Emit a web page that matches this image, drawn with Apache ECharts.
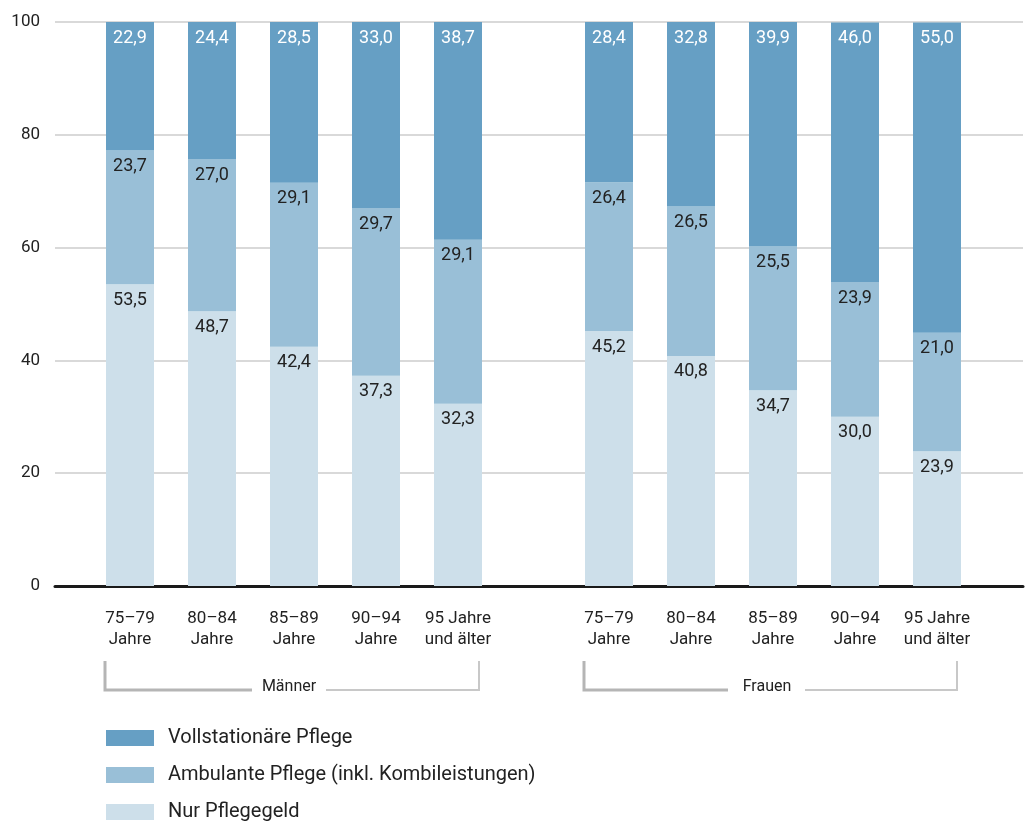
<!DOCTYPE html>
<html><head><meta charset="utf-8">
<script src="https://cdn.jsdelivr.net/npm/echarts@6/dist/echarts.min.js"></script>
<style>html,body{margin:0;padding:0;background:#fff}#c{width:1031px;height:826px}</style>
</head><body><div id="c"></div>
<script>
const categories = ['75–79\nJahre','80–84\nJahre','85–89\nJahre','90–94\nJahre','95 Jahre\nund älter'];
const groups = ['Männer','Frauen'];
const seriesNames = ['Vollstationäre Pflege','Ambulante Pflege (inkl. Kombileistungen)','Nur Pflegegeld'];
const maennerNur  = [53.5, 48.7, 42.4, 37.3, 32.3];
const maennerAmb  = [23.7, 27.0, 29.1, 29.7, 29.1];
const maennerVoll = [22.9, 24.4, 28.5, 33.0, 38.7];
const frauenNur   = [45.2, 40.8, 34.7, 30.0, 23.9];
const frauenAmb   = [26.4, 26.5, 25.5, 23.9, 21.0];
const frauenVoll  = [28.4, 32.8, 39.9, 46.0, 55.0];
const yTicks = [0, 20, 40, 60, 80, 100];

const colors = {voll:'#669fc4', amb:'#99bfd7', nur:'#cddfea'};
const font = 'Roboto';
const fmt = p => p.value.toFixed(1).replace('.', ',');

function mk(name, data, color, gi, labelColor) {
  return {
    name, type:'bar', stack:'s'+gi, xAxisIndex:gi, yAxisIndex:gi, data,
    barWidth:48, itemStyle:{color}, emphasis:{disabled:true},
    label:{show:true, position:'insideTop', distance:7, color:labelColor, fontSize:18, fontFamily:font, formatter:fmt}
  };
}
function lg(name, top) {
  return {
    orient:'vertical', left:106, top, padding:0, itemWidth:48, itemHeight:16, icon:'rect',
    data:[name], selectedMode:false,
    textStyle:{fontSize:20, color:'#222', fontFamily:font, padding:[0,0,0,9]}
  };
}

const catLabel = {interval:0, margin:22, fontSize:17, lineHeight:21, color:'#222', fontFamily:font};
const TOP=22, BOTTOM=240;
const chart = echarts.init(document.getElementById('c'));
chart.setOption({
  animation:false,
  grid:[
    {left:55, right:8, top:TOP, bottom:BOTTOM},
    {left:89, width:410, top:TOP, bottom:BOTTOM},
    {left:568, width:410, top:TOP, bottom:BOTTOM}
  ],
  xAxis:[
    {gridIndex:0, type:'value', min:0, max:1, axisLine:{show:true, onZero:false, lineStyle:{color:'#1a1a1a', width:3}}, axisTick:{show:false}, axisLabel:{show:false}, splitLine:{show:false}},
    {gridIndex:1, type:'category', data:categories, axisLine:{show:false}, axisTick:{show:false}, axisLabel:catLabel},
    {gridIndex:2, type:'category', data:categories, axisLine:{show:false}, axisTick:{show:false}, axisLabel:catLabel}
  ],
  yAxis:[
    {gridIndex:0, type:'value', min:yTicks[0], max:yTicks[yTicks.length-1], interval:20, axisLine:{show:false}, axisTick:{show:false}, axisLabel:{margin:15, fontSize:17, color:'#222', fontFamily:font}, splitLine:{lineStyle:{color:'#cccccc', width:1.5}}},
    {gridIndex:1, type:'value', min:0, max:100, show:false},
    {gridIndex:2, type:'value', min:0, max:100, show:false}
  ],
  legend:[lg(seriesNames[0], 728), lg(seriesNames[1], 765), lg(seriesNames[2], 802)],
  series:[
    mk(seriesNames[2], maennerNur, colors.nur, 1, '#222'),
    mk(seriesNames[1], maennerAmb, colors.amb, 1, '#222'),
    mk(seriesNames[0], maennerVoll, colors.voll, 1, '#fff'),
    mk(seriesNames[2], frauenNur, colors.nur, 2, '#222'),
    mk(seriesNames[1], frauenAmb, colors.amb, 2, '#222'),
    mk(seriesNames[0], frauenVoll, colors.voll, 2, '#fff')
  ],
  graphic:[
    {type:'polyline', shape:{points:[[105,661],[105,690],[252,690]]}, style:{stroke:'#b5b5b5', lineWidth:3, fill:null}},
    {type:'polyline', shape:{points:[[326,690],[479,690],[479,661]]}, style:{stroke:'#c8c8c8', lineWidth:2, fill:null}},
    {type:'text', x:289, y:687, style:{text:groups[0], fontSize:16, fontFamily:font, fill:'#222', align:'center', verticalAlign:'middle'}},
    {type:'polyline', shape:{points:[[584,661],[584,690],[728,690]]}, style:{stroke:'#b5b5b5', lineWidth:3, fill:null}},
    {type:'polyline', shape:{points:[[805,690],[957,690],[957,661]]}, style:{stroke:'#c8c8c8', lineWidth:2, fill:null}},
    {type:'text', x:767, y:687, style:{text:groups[1], fontSize:16, fontFamily:font, fill:'#222', align:'center', verticalAlign:'middle'}}
  ]
});
</script></body></html>
